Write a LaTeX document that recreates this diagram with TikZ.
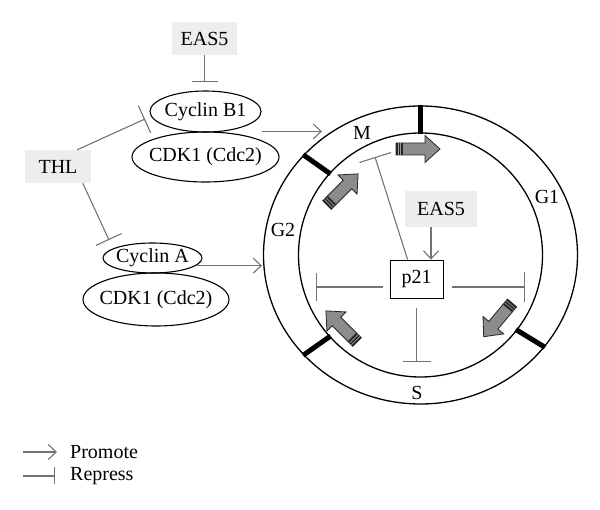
\documentclass[tikz,border=0pt]{standalone}
\usepackage{fontspec}
\setmainfont{Liberation Serif}
\usetikzlibrary{arrows.meta,shapes.geometric,calc}
\newcommand\cycarrow[3]{%
  \begin{scope}[shift={(#1,#2)}, rotate=#3]
    \draw[fill=black!45, draw=black!85, line width=0.8pt] (0,-6)--(29,-6)--(29,-13.5)--(44,0)--(29,13.5)--(29,6)--(0,6)--cycle;
    \fill[black!85] (0,-6) rectangle (7,6);
    \draw[black!40, line width=0.6pt] (2,-6)--(2,6) (4.5,-6)--(4.5,6);
  \end{scope}}
\begin{document}
\begin{tikzpicture}[x=1pt,y=-1pt,
  every node/.style={font=\fontsize{20}{23}\selectfont},
  gbox/.style={fill=black!7, draw=none, inner sep=0pt},
  ell/.style={ellipse, draw, line width=1.1pt, inner sep=0pt},
  promote/.style={draw=black!55, line width=1.1pt, -{Straight Barb[length=8pt,width=15pt]}},
  repress/.style={draw=black!55, line width=1.1pt, -{Bar[width=#1]}},
  repress/.default=26pt,
  phase/.style={inner sep=0pt}]
\useasboundingbox (0,0) rectangle (600,510);
% left side nodes
\node[gbox, minimum width=65, minimum height=33] (easA) at (204.5,38.5) {EAS5};
\node[ell, minimum width=111, minimum height=41, label=center:{Cyclin B1}] (cycB) at (205.5,111.5) {};
\node[ell, minimum width=147, minimum height=50, label=center:{CDK1 (Cdc2)}] (cdkA) at (205.5,157) {};
\node[gbox, minimum width=66, minimum height=33] (thl) at (58,166.5) {THL};
\node[ell, minimum width=99, minimum height=30, label=center:{Cyclin A}] (cycA) at (152.5,258) {};
\node[ell, minimum width=146, minimum height=53, label=center:{CDK1 (Cdc2)}] (cdkB) at (156,299.5) {};
% cycle
\coordinate (c) at (420.5,255);
\draw[line width=1.3pt] (c) ellipse [x radius=157, y radius=149];
\draw[line width=1.3pt] (c) circle [radius=122];
\foreach \a in {90,138,222,322}
  \draw[line width=5pt] ($(c)+(-\a:121)$) -- ($(c)+(-\a:158 and 150)$);
\node[phase] (M) at (362,133) {M};
\node[phase] (G1) at (547,197) {G1};
\node[phase] (G2) at (283,230) {G2};
\node[phase] (S) at (417,393) {S};
\cycarrow{396}{149}{0}
\cycarrow{327}{205}{45}
\cycarrow{357}{342}{135}
\cycarrow{512}{303}{230}
% inner nodes
\node[draw, line width=0.8pt, minimum width=53, minimum height=38, inner sep=0pt] (p21) at (416.5,279) {p21};
\node[gbox, minimum width=72, minimum height=36] (easB) at (441,209) {EAS5};
% coordinates
\coordinate (bBar) at (205,82);
\coordinate (thlB) at (145,119);
\coordinate (thlA) at (109,240);
\coordinate (toM) at (322,0);
\coordinate (toG2) at (262,0);
\coordinate (ptip) at (431,0);
\coordinate (mBar) at (375,157);
\coordinate (lBar) at (316,287);
\coordinate (rBar) at (525,287);
\coordinate (sBar) at (416.5,362);
% connectors
\draw[repress] (easA.south) -- (easA.south |- bBar);
\draw[repress=30pt] (thl.41) -- (thlB);
\draw[repress=28pt] (thl.-34) -- (thlA);
\draw[promote] (cycB.east |- cdkA.north) -- (toM |- cdkA.north);
\draw[promote] (cycA.-10) -- (toG2 |- cycA.-10);
\draw[promote] (easB.south -| ptip) -- (p21.north -| ptip);
\draw[repress=33pt] ([xshift=18pt]p21.north west) -- (mBar);
\draw[repress=28pt, shorten <=7pt] ([yshift=-8pt]p21.west) -- (lBar);
\draw[repress=30pt, shorten <=9pt] ([yshift=-8pt]p21.east) -- (rBar);
\draw[repress=28pt, shorten <=10pt] (p21.south) -- (sBar);
% legend
\coordinate (lp1) at (23,452);
\coordinate (lp2) at (57,452);
\coordinate (lr1) at (23,476);
\coordinate (lr2) at (55,476);
\draw[promote] (lp1) -- (lp2);
\draw[repress=17pt] (lr1) -- (lr2);
\node[anchor=west, inner sep=0pt] (promtxt) at (70,452) {Promote};
\node[anchor=west, inner sep=0pt] (reptxt) at (70,476) {Repress};
\end{tikzpicture}
\end{document}
